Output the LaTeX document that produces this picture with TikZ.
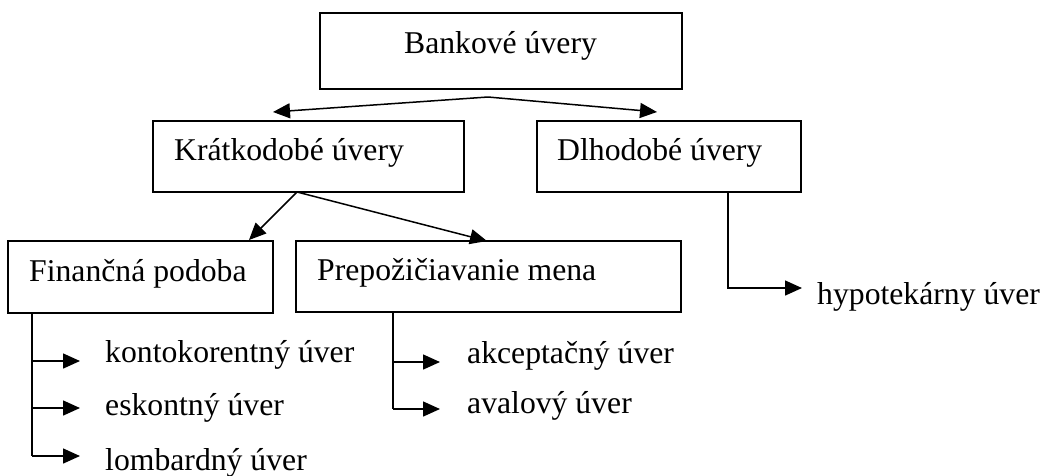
\documentclass[tikz,border=0pt]{standalone}
\usepackage{fontspec}
\setmainfont{Liberation Serif}
\usetikzlibrary{arrows.meta}
\begin{document}
\begin{tikzpicture}[x=1pt,y=-1pt,
  box/.style={draw,line width=1.5pt,rectangle,inner sep=0pt},
  lbl/.style={anchor=base west,inner sep=0pt,font=\fontsize{31.7}{38}\selectfont},
  conn/.style={line width=1.5pt,-{Triangle[length=17pt,width=15pt]}},
  plain/.style={line width=1.5pt}]
\useasboundingbox (0,0) rectangle (1044,475);
% boxes
\node[box,minimum width=362pt,minimum height=76pt] (bank) at (501,51) {};
\node[box,minimum width=311pt,minimum height=71pt] (kratk) at (308.5,156.5) {};
\node[box,minimum width=264pt,minimum height=71pt] (dlho) at (669,156.5) {};
\node[box,minimum width=265pt,minimum height=72pt] (fin) at (140.5,277) {};
\node[box,minimum width=385pt,minimum height=71pt] (prep) at (488.5,276.5) {};
% box texts
\node[lbl,anchor=base] (tbank) at (500.5,53) {Bankové úvery};
\node[lbl] (tkratk) at (174,160) {Krátkodobé úvery};
\node[lbl] (tdlho) at (557,160) {Dlhodobé úvery};
\node[lbl] (tfin) at (29,281) {Finančná podoba};
\node[lbl] (tprep) at (317,280) {Prepožičiavanie mena};
% leaf texts
\node[lbl] (konto) at (105,362) {kontokorentný úver};
\node[lbl] (eskont) at (105,415) {eskontný úver};
\node[lbl] (lomb) at (105,470) {lombardný úver};
\node[lbl] (akcept) at (467,363) {akceptačný úver};
\node[lbl] (aval) at (467,413) {avalový úver};
\node[lbl] (hypo) at (817,304) {hypotekárny úver};
% coordinates
\coordinate (bsplit) at (488,97);
\coordinate (tk) at (273,112);
\coordinate (td) at (657,112);
\coordinate (ksplit) at (297,192);
\coordinate (tf) at (249,240);
\coordinate (tp) at (487,241);
\coordinate (fbase) at (32,313);
\coordinate (f1) at (32,361);
\coordinate (f2) at (32,408);
\coordinate (f3) at (32,456);
\coordinate (a1) at (80,361);
\coordinate (a2) at (80,408);
\coordinate (a3) at (80,456);
\coordinate (pbase) at (393,312);
\coordinate (p1) at (393,362);
\coordinate (p2) at (393,409);
\coordinate (b1) at (440,362);
\coordinate (b2) at (440,409);
\coordinate (dbase) at (728,192);
\coordinate (d1) at (728,288);
\coordinate (e1) at (802,288);
% connectors
\draw[conn] (bsplit) -- (tk);
\draw[conn] (bsplit) -- (td);
\draw[conn] (ksplit) -- (tf);
\draw[conn] (ksplit) -- (tp);
\draw[plain] (fbase) -- (f3);
\draw[conn] (f1) -- (a1);
\draw[conn] (f2) -- (a2);
\draw[conn] (f3) -- (a3);
\draw[plain] (pbase) -- (p2);
\draw[conn] (p1) -- (b1);
\draw[conn] (p2) -- (b2);
\draw[conn] (dbase) -- (d1) -- (e1);
\end{tikzpicture}
\end{document}
